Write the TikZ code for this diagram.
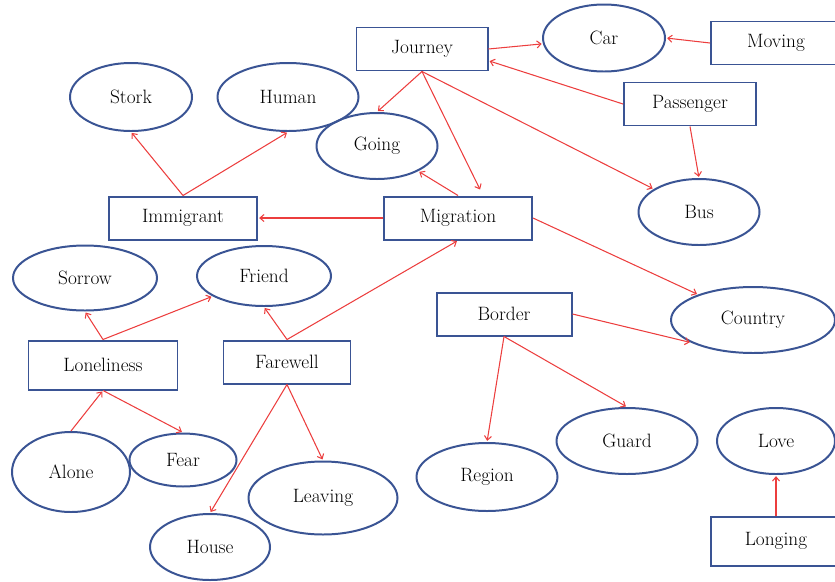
\documentclass[tikz,border=0pt]{standalone}
\usetikzlibrary{shapes.geometric,arrows.meta}
\definecolor{nodeblue}{RGB}{58,84,148}
\definecolor{linkred}{RGB}{236,62,62}
\begin{document}
\begin{tikzpicture}[x=0.03cm, y=-0.03cm, >={Straight Barb[length=3.5pt,width=6pt]}, shorten >=1pt,
  box node/.style={rectangle,draw=nodeblue,line width=1.7pt,inner sep=0pt,font=\fontsize{16.5}{18}\selectfont},
  oval node/.style={ellipse,draw=nodeblue,line width=1.7pt,inner sep=0pt,font=\fontsize{16.5}{18}\selectfont},
  dims/.style 2 args={minimum width=#1*0.03cm,minimum height=#2*0.03cm},
  link/.style={->,draw=linkred,line width=0.9pt}]
\useasboundingbox (0,0) rectangle (835,581);
% boxes
\node [box node,dims={131}{43}](jour) at (422,49) {Journey};
\node [box node,dims={130}{43}](mov) at (776,43) {Moving};
\node [box node,dims={132}{43}](pass) at (690,104) {Passenger};
\node [box node,dims={148}{43}](imm) at (183,218) {Immigrant};
\node [box node,dims={148}{43}](mig) at (458,218) {Migration};
\node [box node,dims={135}{43}](bord) at (504,314) {Border};
\node [box node,dims={149}{49}](lone) at (103,365) {Loneliness};
\node [box node,dims={127}{43}](fare) at (287,362) {Farewell};
\node [box node,dims={130}{49}](long) at (776,541) {Longing};
% ovals
\node [oval node,dims={122}{67}](car) at (604,38) {Car};
\node [oval node,dims={121}{66}](going) at (377,146) {Going};
\node [oval node,dims={122}{68}](stork) at (131,97) {Stork};
\node [oval node,dims={141}{68}](human) at (288,97) {Human};
\node [oval node,dims={121}{66}](bus) at (699,212) {Bus};
\node [oval node,dims={144}{65}](sorrow) at (85,278) {Sorrow};
\node [oval node,dims={134}{60}](friend) at (264,276) {Friend};
\node [oval node,dims={164}{66}](country) at (753,320) {Country};
\node [oval node,dims={118}{80}](alone) at (71,472) {Alone};
\node [oval node,dims={107}{53}](fear) at (183,460) {Fear};
\node [oval node,dims={149}{73}](leav) at (323,498) {Leaving};
\node [oval node,dims={120}{66}](house) at (210,547) {House};
\node [oval node,dims={141}{68}](region) at (487,477) {Region};
\node [oval node,dims={141}{66}](guard) at (627,441) {Guard};
\node [oval node,dims={118}{66}](love) at (776,441) {Love};
% links
\draw [link] (jour.east) -- (car);
\draw [link] (mov.west) -- (car.east);
\draw [link] (pass.west) -- (jour.-10);
\draw [link] (pass.south) -- (bus.north);
\draw [link] (jour.south) -- (going.north);
\draw [link,shorten >=0.2cm] (jour.south) -- ([xshift=0.75cm]mig.north);
\draw [link] (jour.south) -- (bus);
\draw [link] (mig.north) -- (going);
\draw [link] (mig.west) -- (imm.east);
\draw [link] (imm.north) -- (stork.south);
\draw [link] (imm.north) -- (human.south);
\draw [link] (mig.east) -- (country);
\draw [link] (bord.east) -- (country.200);
\draw [link] (bord.south) -- (region.north);
\draw [link] (bord.south) -- (guard.north);
\draw [link] (lone.north) -- (sorrow.south);
\draw [link] (lone.north) -- (friend);
\draw [link] (fare.north) -- (friend.south);
\draw [link] (fare.north) -- (mig.south);
\draw [link] (alone.north) -- (lone.south);
\draw [link] (lone.south) -- (fear.north);
\draw [link] (fare.south) -- (house.north);
\draw [link] (fare.south) -- (leav.north);
\draw [link] (long.north) -- (love.south);
\end{tikzpicture}
\end{document}
